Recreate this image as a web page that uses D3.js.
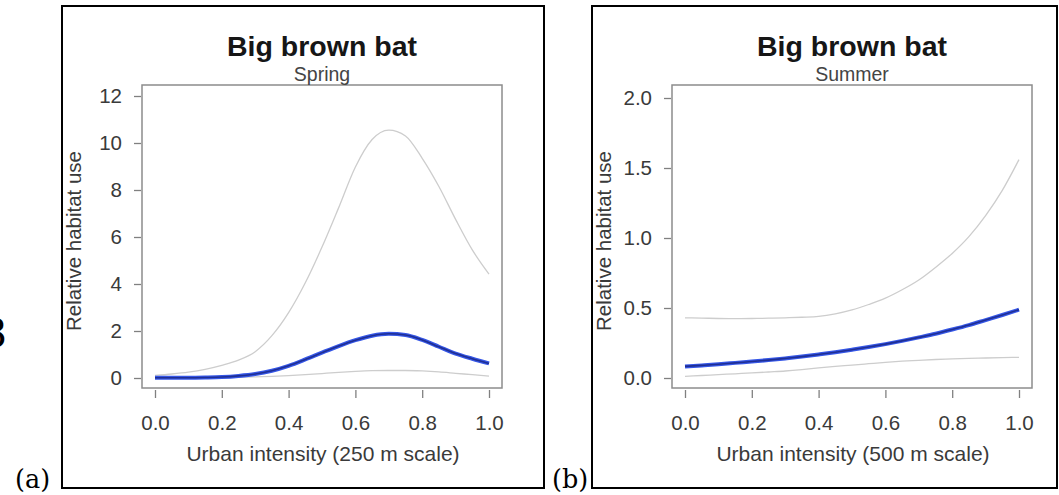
<!DOCTYPE html>
<html>
<head>
<meta charset="utf-8">
<script src="https://cdn.jsdelivr.net/npm/d3@7"></script>
<style>
  body { margin: 0; background: #fff; }
  svg { display: block; }
  .axis text { font-family: "Liberation Sans", Arial, sans-serif; font-size: 20.5px; fill: #3a3a3a; }
  .axis line { stroke: #808080; stroke-width: 1.3; }
</style>
</head>
<body>
<div id="chart"></div>
<script>
// urban intensity grid shared by every curve
var urban = [0, 0.05, 0.10, 0.15, 0.20, 0.25, 0.30, 0.35, 0.40, 0.45, 0.50,
             0.55, 0.60, 0.65, 0.70, 0.75, 0.80, 0.85, 0.90, 0.95, 1.00];

// (a) spring, 250 m scale
var springMean  = [0.01, 0.01, 0.01, 0.02, 0.04, 0.09, 0.17, 0.31, 0.52, 0.79, 1.08,
                   1.36, 1.61, 1.80, 1.88, 1.83, 1.62, 1.33, 1.04, 0.82, 0.62];
var springLower = [0.00, 0.01, 0.01, 0.02, 0.02, 0.03, 0.05, 0.07, 0.10, 0.14, 0.19,
                   0.24, 0.28, 0.31, 0.32, 0.32, 0.30, 0.26, 0.20, 0.14, 0.08];
var springUpper = [0.11, 0.17, 0.25, 0.37, 0.54, 0.76, 1.12, 1.80, 2.78, 4.05, 5.57,
                   7.25, 8.98, 10.15, 10.55, 10.30, 9.35, 8.15, 6.75, 5.45, 4.42];

// (b) summer, 500 m scale
var summerMean  = [0.083, 0.090, 0.098, 0.108, 0.118, 0.128, 0.140, 0.153, 0.168, 0.184, 0.202,
                   0.221, 0.242, 0.265, 0.290, 0.316, 0.346, 0.378, 0.414, 0.450, 0.488];
var summerLower = [0.012, 0.018, 0.024, 0.030, 0.036, 0.043, 0.050, 0.060, 0.072, 0.083, 0.092,
                   0.102, 0.112, 0.120, 0.126, 0.132, 0.136, 0.140, 0.143, 0.146, 0.148];
var summerUpper = [0.430, 0.428, 0.425, 0.424, 0.425, 0.427, 0.430, 0.434, 0.440, 0.458, 0.486,
                   0.525, 0.570, 0.630, 0.700, 0.790, 0.890, 1.010, 1.160, 1.340, 1.560];

var xTicks = [0, 0.2, 0.4, 0.6, 0.8, 1.0];
var springYTicks = [0, 2, 4, 6, 8, 10, 12];
var summerYTicks = [0, 0.5, 1.0, 1.5, 2.0];

var svg = d3.select("#chart")
    .append("svg")
    .attr("width", 1059)
    .attr("height", 495);

function drawPanel(p) {
    var g = svg.append("g").attr("transform", "translate(" + p.dx + ",0)");

    // outer frame
    g.append("rect")
        .attr("x", 62).attr("y", 6)
        .attr("width", p.frameW).attr("height", 482)
        .attr("fill", "none")
        .attr("stroke", "#000")
        .attr("stroke-width", 2);

    var x = d3.scaleLinear().domain([0, 1]).range([155, 489]);
    var y = d3.scaleLinear().domain(p.yDomain).range([378, p.yTop]);

    // plot box
    g.append("rect")
        .attr("x", 142).attr("y", 85)
        .attr("width", 360).attr("height", 303)
        .attr("fill", "none")
        .attr("stroke", "#8c8c8c")
        .attr("stroke-width", 1.5);

    var xAxis = g.append("g")
        .attr("class", "axis")
        .attr("transform", "translate(0,390)")
        .call(d3.axisBottom(x).tickValues(xTicks).tickFormat(d3.format(".1f"))
            .tickSize(8).tickSizeOuter(0).tickPadding(17));
    xAxis.select(".domain").remove();

    var yAxis = g.append("g")
        .attr("class", "axis")
        .attr("transform", "translate(141,0)")
        .call(d3.axisLeft(y).tickValues(p.yTicks).tickFormat(p.yFormat)
            .tickSize(7).tickSizeOuter(0).tickPadding(12));
    yAxis.select(".domain").remove();

    var line = d3.line()
        .x(function(d) { return x(d[0]); })
        .y(function(d) { return y(d[1]); })
        .curve(d3.curveMonotoneX);

    [p.lower, p.upper].forEach(function(s) {
        g.append("path")
            .datum(urban.map(function(u, i) { return [u, s[i]]; }))
            .attr("fill", "none")
            .attr("stroke", "#cdcdcd")
            .attr("stroke-width", 1.3)
            .attr("d", line);
    });

    var meanData = urban.map(function(u, i) { return [u, p.mean[i]]; });
    g.append("path")
        .datum(meanData)
        .attr("fill", "none")
        .attr("stroke", "#3556e6")
        .attr("stroke-width", 4)
        .attr("d", line);
    g.append("path")
        .datum(meanData)
        .attr("fill", "none")
        .attr("stroke", "#1f2f94")
        .attr("stroke-width", 1.6)
        .attr("d", line);

    // titles
    g.append("text")
        .attr("x", 322).attr("y", 56)
        .attr("text-anchor", "middle")
        .attr("font-family", "Liberation Sans, Arial, sans-serif")
        .attr("font-weight", "bold")
        .attr("font-size", "28.5px")
        .attr("fill", "#161616")
        .text("Big brown bat");

    g.append("text")
        .attr("x", 322).attr("y", 81)
        .attr("text-anchor", "middle")
        .attr("font-family", "Liberation Sans, Arial, sans-serif")
        .attr("font-size", "19.5px")
        .attr("fill", "#444")
        .text(p.season);

    g.append("text")
        .attr("x", 323).attr("y", 461)
        .attr("text-anchor", "middle")
        .attr("font-family", "Liberation Sans, Arial, sans-serif")
        .attr("font-size", "21px")
        .attr("fill", "#3a3a3a")
        .text(p.xLabel);

    g.append("text")
        .attr("transform", "rotate(-90)")
        .attr("x", -241).attr("y", 81)
        .attr("text-anchor", "middle")
        .attr("font-family", "Liberation Sans, Arial, sans-serif")
        .attr("font-size", "20.5px")
        .attr("fill", "#3a3a3a")
        .text("Relative habitat use");

    // panel letter
    g.append("text")
        .attr("x", p.letterX).attr("y", 488)
        .attr("font-family", "DejaVu Serif, serif")
        .attr("font-size", "25.5px")
        .attr("fill", "#000")
        .text(p.letter);
}

drawPanel({
    dx: 0, frameW: 482, letter: "(a)", letterX: 15,
    season: "Spring", xLabel: "Urban intensity (250 m scale)",
    yDomain: [0, 12], yTop: 96, yTicks: springYTicks, yFormat: d3.format("d"),
    mean: springMean, lower: springLower, upper: springUpper
});

drawPanel({
    dx: 530, frameW: 465, letter: "(b)", letterX: 22,
    season: "Summer", xLabel: "Urban intensity (500 m scale)",
    yDomain: [0, 2], yTop: 98, yTicks: summerYTicks, yFormat: d3.format(".1f"),
    mean: summerMean, lower: summerLower, upper: summerUpper
});

// character cropped by the left edge of the figure, as in the source image
svg.append("text")
    .attr("x", 7).attr("y", 347)
    .attr("text-anchor", "end")
    .attr("font-family", "DejaVu Serif, serif")
    .attr("font-size", "40px")
    .attr("fill", "#000")
    .text("8");
</script>
</body>
</html>
